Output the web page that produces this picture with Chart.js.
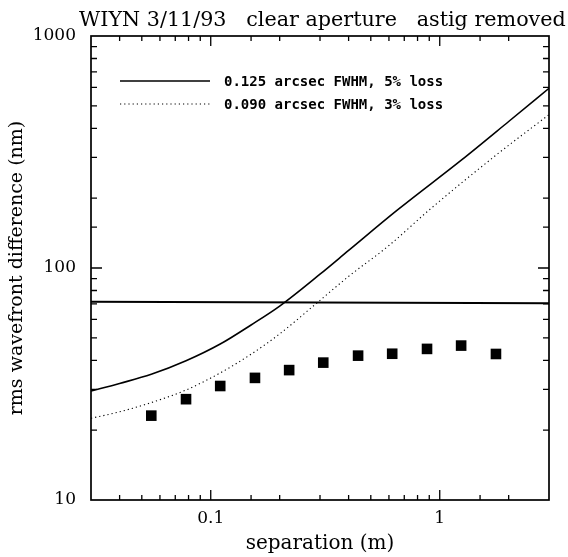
<!DOCTYPE html>
<html>
<head>
<meta charset="utf-8">
<script src="https://cdn.jsdelivr.net/npm/chart.js@4.4.1/dist/chart.umd.min.js"></script>
<style>
  html, body { margin: 0; padding: 0; background: #fff; }
</style>
</head>
<body>
<canvas id="chart" width="568" height="557"></canvas>
<script>
// values
const titleText = 'WIYN 3/11/93   clear aperture   astig removed';
const xTickLabels = [0.1, 1];
const yTickLabels = [10, 100, 1000];

const fwhm125Label = '0.125 arcsec FWHM, 5% loss';
const fwhm125X = [0.03, 0.04, 0.055, 0.078, 0.11, 0.15, 0.2, 0.3, 0.4, 0.65, 1.25, 2.0, 3.0];
const fwhm125Y = [29.5, 31.8, 34.8, 39.8, 47, 56.8, 68.5, 94, 119, 177, 293, 428, 595];

const fwhm090Label = '0.090 arcsec FWHM, 3% loss';
const fwhm090X = [0.03, 0.04, 0.055, 0.078, 0.11, 0.15, 0.2, 0.29, 0.4, 0.6, 0.9, 1.75, 3.0];
const fwhm090Y = [22.5, 24, 26.3, 29.8, 35.3, 42.5, 52, 70.5, 92, 125, 178, 305, 458];

const limitX = [0.03, 3];
const limitY = [71.5, 70.5];

const measX = [0.055, 0.078, 0.11, 0.156, 0.22, 0.31, 0.44, 0.62, 0.88, 1.24, 1.76];
const measY = [23.1, 27.2, 31.0, 33.6, 36.3, 39.1, 41.9, 42.7, 44.8, 46.3, 42.6];

const pts = (xs, ys) => xs.map((x, i) => ({ x, y: ys[i] }));
const isDecade = v => Math.abs(Math.log10(v) - Math.round(Math.log10(v))) < 1e-6;
const serif = '"DejaVu Serif", "Liberation Serif", serif';

// inward ticks on all four sides plus the frame
const frameTicks = {
  id: 'frameTicks',
  afterDatasetsDraw(chart) {
    const { ctx, chartArea: a, scales: { x, y } } = chart;
    ctx.save();
    ctx.strokeStyle = '#000';
    ctx.lineWidth = 1.3;
    ctx.beginPath();
    x.ticks.forEach(t => {
      const px = x.getPixelForValue(t.value);
      if (px <= a.left + 1 || px >= a.right - 1) return;
      const len = isDecade(t.value) ? 10 : 5;
      ctx.moveTo(px, a.bottom); ctx.lineTo(px, a.bottom - len);
      ctx.moveTo(px, a.top); ctx.lineTo(px, a.top + len);
    });
    y.ticks.forEach(t => {
      const py = y.getPixelForValue(t.value);
      if (py <= a.top + 1 || py >= a.bottom - 1) return;
      const len = isDecade(t.value) ? 11 : 6;
      ctx.moveTo(a.left, py); ctx.lineTo(a.left + len, py);
      ctx.moveTo(a.right, py); ctx.lineTo(a.right - len, py);
    });
    ctx.stroke();
    ctx.lineWidth = 1.7;
    ctx.strokeRect(a.left, a.top, a.right - a.left, a.bottom - a.top);
    ctx.restore();
  }
};

// title over the frame and the line key inside it
const headerKey = {
  id: 'headerKey',
  afterDraw(chart) {
    const { ctx } = chart;
    ctx.save();
    ctx.fillStyle = '#000';
    ctx.font = '20.7px ' + serif;
    ctx.textBaseline = 'alphabetic';
    ctx.fillText(titleText, 79, 26);

    const keys = [chart.data.datasets[0], chart.data.datasets[1]];
    keys.forEach((ds, i) => {
      const ky = 81 + i * 23;
      ctx.strokeStyle = ds.borderColor;
      ctx.lineWidth = ds.borderWidth;
      ctx.setLineDash(ds.borderDash || []);
      ctx.beginPath();
      ctx.moveTo(120, ky);
      ctx.lineTo(210, ky);
      ctx.stroke();
      ctx.setLineDash([]);
      ctx.font = 'bold 14px "DejaVu Sans Mono", monospace';
      ctx.textBaseline = 'middle';
      ctx.fillText(ds.label, 224, ky + 1);
    });
    ctx.restore();
  }
};

new Chart(document.getElementById('chart'), {
  type: 'scatter',
  data: {
    datasets: [
      {
        label: fwhm125Label,
        data: pts(fwhm125X, fwhm125Y),
        showLine: true,
        borderColor: '#000',
        borderWidth: 1.6,
        pointRadius: 0,
        cubicInterpolationMode: 'monotone',
      },
      {
        label: fwhm090Label,
        data: pts(fwhm090X, fwhm090Y),
        showLine: true,
        borderColor: '#000',
        borderWidth: 1.1,
        borderDash: [1.2, 3],
        pointRadius: 0,
        cubicInterpolationMode: 'monotone',
      },
      {
        label: 'limit',
        data: pts(limitX, limitY),
        showLine: true,
        borderColor: '#000',
        borderWidth: 2,
        pointRadius: 0,
      },
      {
        label: 'measured',
        data: pts(measX, measY),
        showLine: false,
        pointStyle: 'rect',
        pointRadius: 7.5,
        backgroundColor: '#000',
        borderColor: '#000',
        borderWidth: 0,
      },
    ],
  },
  options: {
    responsive: false,
    animation: false,
    layout: { padding: { top: 36, right: 19, left: 0, bottom: 0 } },
    plugins: {
      legend: { display: false },
      tooltip: { enabled: false },
    },
    scales: {
      x: {
        type: 'logarithmic',
        min: 0.03,
        max: 3,
        grid: { display: false, drawTicks: false },
        border: { display: false },
        afterFit: s => { s.height = 57; },
        ticks: {
          autoSkip: false,
          maxRotation: 0,
          padding: 8,
          color: '#000',
          font: { family: serif, size: 17 },
          callback: v => (isDecade(v) && xTickLabels.some(t => Math.abs(t - v) < 1e-9)) ? String(v) : '',
        },
        title: {
          display: true,
          text: 'separation (m)',
          color: '#000',
          font: { family: serif, size: 20 },
          padding: { top: 0, bottom: 1 },
        },
      },
      y: {
        type: 'logarithmic',
        min: 10,
        max: 1000,
        grid: { display: false, drawTicks: false },
        border: { display: false },
        afterFit: s => { s.width = 91; },
        ticks: {
          autoSkip: false,
          padding: 15,
          color: '#000',
          font: { family: serif, size: 17 },
          callback: v => (isDecade(v) && yTickLabels.some(t => Math.abs(t - v) < 1e-9)) ? String(v) : '',
        },
        title: {
          display: true,
          text: 'rms wavefront difference (nm)',
          color: '#000',
          font: { family: serif, size: 19 },
          padding: { top: 6, bottom: 0 },
        },
      },
    },
  },
  plugins: [frameTicks, headerKey],
});
</script>
</body>
</html>
